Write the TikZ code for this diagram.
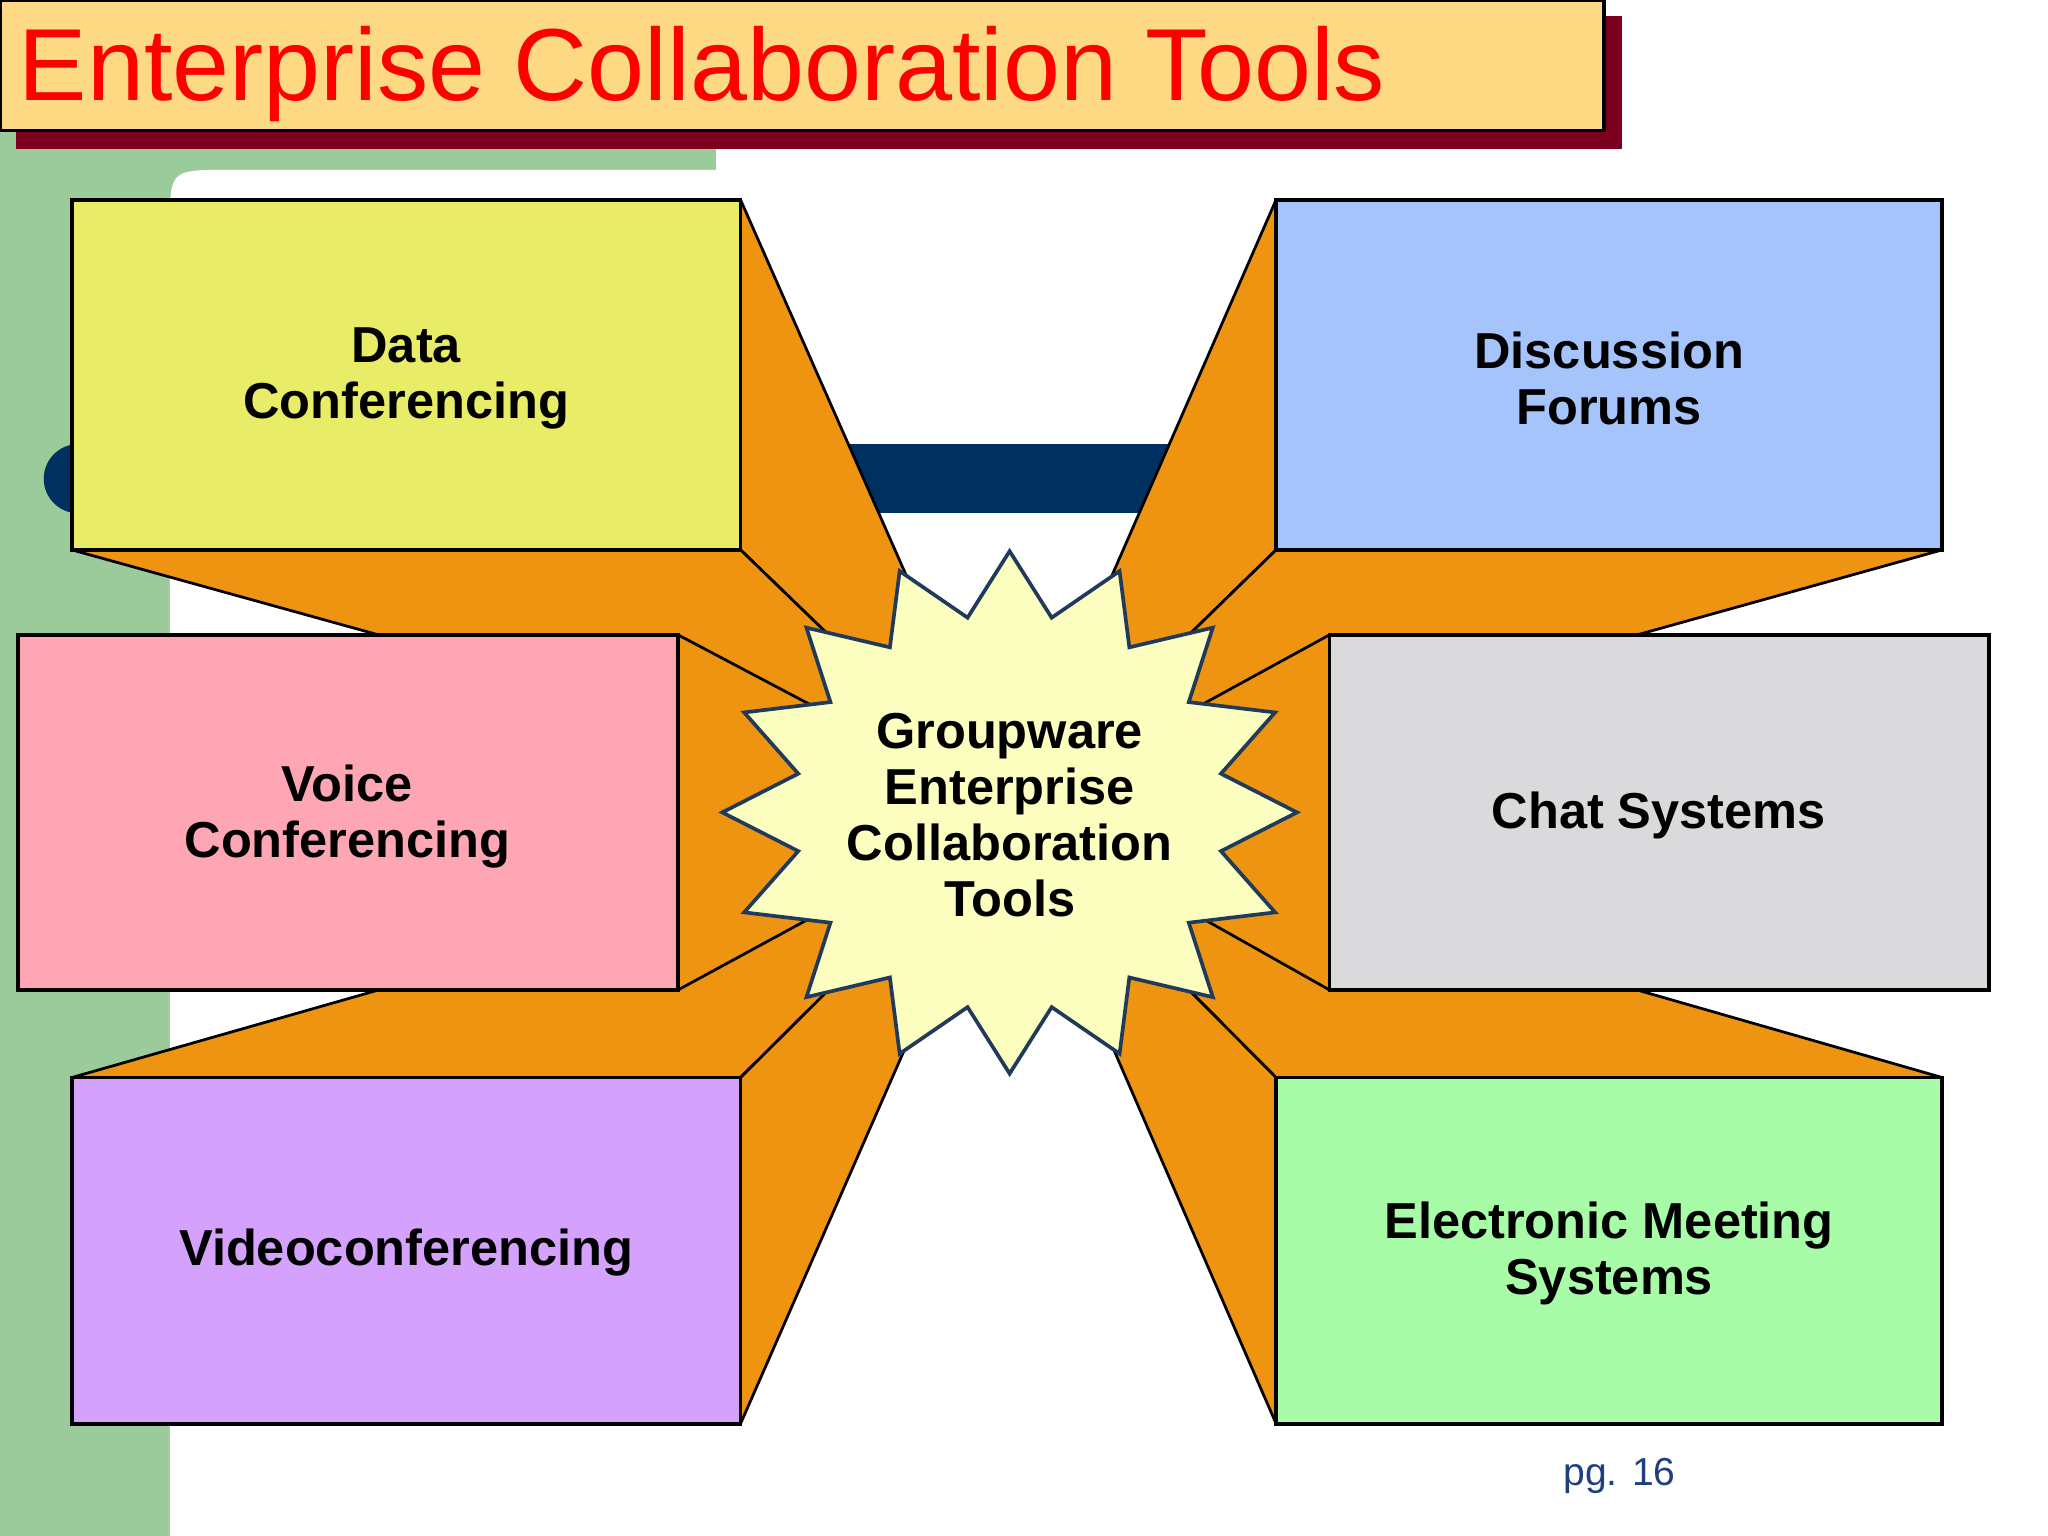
\documentclass[tikz,border=0pt]{standalone}
\usepackage{fontspec}
\setmainfont{Liberation Sans}
\definecolor{extc}{HTML}{EE9410}
\definecolor{grn}{HTML}{9BCB9B}
\definecolor{navy}{HTML}{00305F}
\definecolor{cdata}{HTML}{E9EC66}
\definecolor{cdisc}{HTML}{A6C4FC}
\definecolor{cvoice}{HTML}{FFA6B4}
\definecolor{cchat}{HTML}{DAD9DC}
\definecolor{cvideo}{HTML}{D4A2FC}
\definecolor{cems}{HTML}{A8FCA8}
\definecolor{cstar}{HTML}{FCFEC0}
\definecolor{cstarl}{HTML}{1F3A5A}
\definecolor{shad}{HTML}{7B0020}
\definecolor{ctitle}{HTML}{FDD983}
\definecolor{cpg}{HTML}{1F3F7F}
\begin{document}
\begin{tikzpicture}[x=0.01cm,y=-0.01cm,
  ext/.style={fill=extc, draw=black, line width=0.6pt, line join=round},
  box/.style={draw=black, line width=0.8pt},
  lbl/.style={font=\fontsize{11}{12.2}\selectfont\bfseries, align=center, text=black}]
\useasboundingbox (0,0) rectangle (1568,1176);
\fill[white] (0,0) rectangle (1568,1176);
\fill[grn] (10,100) rectangle (548,130);
\fill[grn] (0,100) rectangle (130,1176);
\fill[grn] (130,130) rectangle (200,200);
\fill[white] (130,1176) -- (130,175) .. controls (130,130) .. (175,130) -- (1568,130) -- (1568,1176) -- cycle;
\fill[navy] (60,340) rectangle (900,393);
\fill[navy] (60,366.5) circle[radius=0.265cm];
\coordinate (c) at (773,620);
\draw[ext] (567,153) -- (c) -- (567,421) -- cycle;
\draw[ext] (55,421) -- (c) -- (567,421) -- cycle;
\draw[ext] (977,153) -- (c) -- (977,421) -- cycle;
\draw[ext] (1487,421) -- (c) -- (977,421) -- cycle;
\draw[ext] (55,825) -- (c) -- (567,825) -- cycle;
\draw[ext] (567,825) -- (c) -- (567,1090) -- cycle;
\draw[ext] (1487,825) -- (c) -- (977,825) -- cycle;
\draw[ext] (977,825) -- (c) -- (977,1090) -- cycle;
\draw[ext] (519,486) -- (c) -- (519,758) -- cycle;
\draw[ext] (1018,486) -- (c) -- (1018,758) -- cycle;
\draw[box, fill=cdata] (55,153) rectangle (567,421);
\draw[box, fill=cdisc] (977,153) rectangle (1487,421);
\draw[box, fill=cvoice] (14,486) rectangle (519,758);
\draw[box, fill=cchat] (1018,486) rectangle (1523,758);
\draw[box, fill=cvideo] (55,825) rectangle (567,1090);
\draw[box, fill=cems] (977,825) rectangle (1487,1090);
\node[lbl] (d) at (311,290) {Data\\Conferencing};
\node[lbl] (f) at (1232,290) {Discussion\\Forums};
\node[lbl] (v) at (266,625) {Voice\\Conferencing};
\node[lbl] (ch) at (1270,624) {Chat Systems};
\node[lbl] (vi) at (311,959) {Videoconferencing};
\node[lbl] (e) at (1232,960) {Electronic Meeting\\Systems};
\draw[fill=cstar, draw=cstarl, line width=0.8pt]
  plot[samples at={0,...,31}, variable=\i] ({773+(mod(\i,2)==0 ? 220 : 165)*sin(\i*11.25)}, {622-(mod(\i,2)==0 ? 200 : 152)*cos(\i*11.25)}) -- cycle;
\node[lbl] (g) at (773,624) {Groupware\\Enterprise\\Collaboration\\Tools};
\fill[shad] (12,12) rectangle (1242,114);
\draw[fill=ctitle, draw=black, line width=0.8pt] (0,0) rectangle (1228,100);
\node[anchor=west, text=red, font=\fontsize{22.3}{24}\selectfont] (t) at (2,57) {Enterprise Collaboration Tools};
\node[text=cpg, font=\fontsize{8.5}{10}\selectfont] (p) at (1240,1130) {pg. 16};
\end{tikzpicture}
\end{document}
